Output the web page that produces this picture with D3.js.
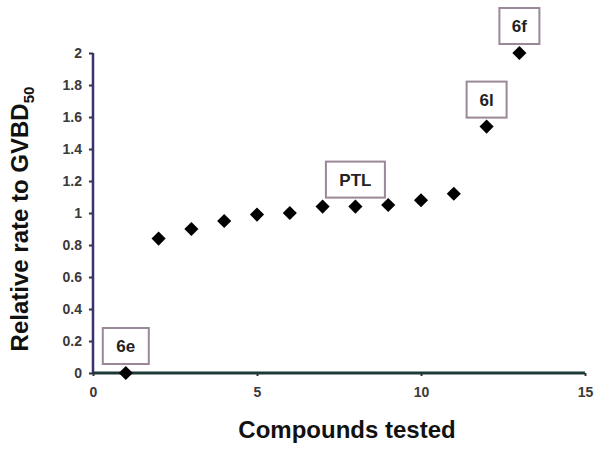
<!DOCTYPE html>
<html>
<head>
<meta charset="utf-8">
<script src="https://cdn.jsdelivr.net/npm/d3@7"></script>
<style>
  body { margin: 0; background: #fff; }
  text { font-family: "Liberation Sans", Arial, sans-serif; }
</style>
</head>
<body>
<svg id="chart" width="604" height="454"></svg>
<script>
// compounds (x) and their relative rate to GVBD50 (y)
var compounds = [1, 2, 3, 4, 5, 6, 7, 8, 9, 10, 11, 12, 13];
var rates = [0.0, 0.84, 0.90, 0.95, 0.99, 1.0, 1.04, 1.04, 1.05, 1.08, 1.12, 1.54, 2.0];

// labelled points
var labelNames = ["6e", "PTL", "6l", "6f"];
var labelX = [1, 8, 12, 13];
var labelY = [0.0, 1.04, 1.54, 2.0];

var xTicks = [0, 5, 10, 15];
var yTicks = [0, 0.2, 0.4, 0.6, 0.8, 1, 1.2, 1.4, 1.6, 1.8, 2];

var svg = d3.select("#chart");
var margin = {left: 93, right: 19, top: 53, bottom: 81};
var W = 604, H = 454;

var x = d3.scaleLinear().domain([0, 15]).range([margin.left, W - margin.right]);
var y = d3.scaleLinear().domain([0, 2]).range([H - margin.bottom, margin.top]);

// y axis
var yAxis = svg.append("g")
  .attr("transform", "translate(" + x(0) + ",0)")
  .call(d3.axisLeft(y).tickValues(yTicks).tickSize(4).tickSizeOuter(0).tickPadding(7)
    .tickFormat(function(d){ return String(d); }));
yAxis.select(".domain").remove();
yAxis.selectAll(".tick line").attr("stroke", "#333").attr("stroke-width", 2);
yAxis.selectAll(".tick text").attr("font-size", 14).attr("font-weight", "bold").attr("fill", "#3a3a3a");

// x axis
var xAxis = svg.append("g")
  .attr("transform", "translate(0," + y(0) + ")")
  .call(d3.axisBottom(x).tickValues(xTicks).tickSize(3).tickSizeOuter(0).tickPadding(11));
xAxis.select(".domain").remove();
xAxis.selectAll(".tick line").attr("stroke", "#333").attr("stroke-width", 2);
xAxis.selectAll(".tick text").attr("font-size", 14).attr("font-weight", "bold").attr("fill", "#3a3a3a");

// axis lines
svg.append("line")
  .attr("x1", x(0)).attr("x2", x(0)).attr("y1", y(2)).attr("y2", y(0))
  .attr("stroke", "#3a3270").attr("stroke-width", 2.5);
svg.append("line")
  .attr("x1", x(0)).attr("x2", x(15)).attr("y1", y(0)).attr("y2", y(0))
  .attr("stroke", "#1e3a38").attr("stroke-width", 3);

// axis titles
svg.append("text")
  .attr("x", 347).attr("y", 438)
  .attr("text-anchor", "middle")
  .attr("font-size", 24).attr("font-weight", "bold").attr("fill", "#111")
  .text("Compounds tested");

var yt = svg.append("text")
  .attr("transform", "translate(28,219) rotate(-90)")
  .attr("text-anchor", "middle")
  .attr("font-size", 24).attr("font-weight", "bold").attr("fill", "#111");
yt.append("tspan").text("Relative rate to GVBD");
yt.append("tspan").attr("font-size", 15).attr("dy", 6).text("50");

// points: rotated squares
var square = d3.symbol().type(d3.symbolSquare).size(100);
svg.selectAll("path.pt")
  .data(compounds)
  .enter().append("path")
  .attr("class", "pt")
  .attr("d", square)
  .attr("transform", function(d, i){ return "translate(" + x(d) + "," + y(rates[i]) + ") rotate(45)"; })
  .attr("fill", "#000");

// labels in boxes above points
var lab = svg.selectAll("g.lab")
  .data(labelNames)
  .enter().append("g")
  .attr("class", "lab")
  .attr("transform", function(d, i){ return "translate(" + x(labelX[i]) + "," + (y(labelY[i]) - 27) + ")"; });

lab.each(function(d){
  var g = d3.select(this);
  var w = d === "PTL" ? 59 : (d === "6e" ? 46 : 40);
  g.append("rect")
    .attr("x", -w / 2).attr("y", -18)
    .attr("width", w).attr("height", 36)
    .attr("fill", "#fff").attr("stroke", "#9a8898").attr("stroke-width", 2);
  g.append("text")
    .attr("x", 0).attr("y", 6)
    .attr("text-anchor", "middle")
    .attr("font-size", 17).attr("font-weight", "bold").attr("fill", "#222")
    .text(d);
});
</script>
</body>
</html>
